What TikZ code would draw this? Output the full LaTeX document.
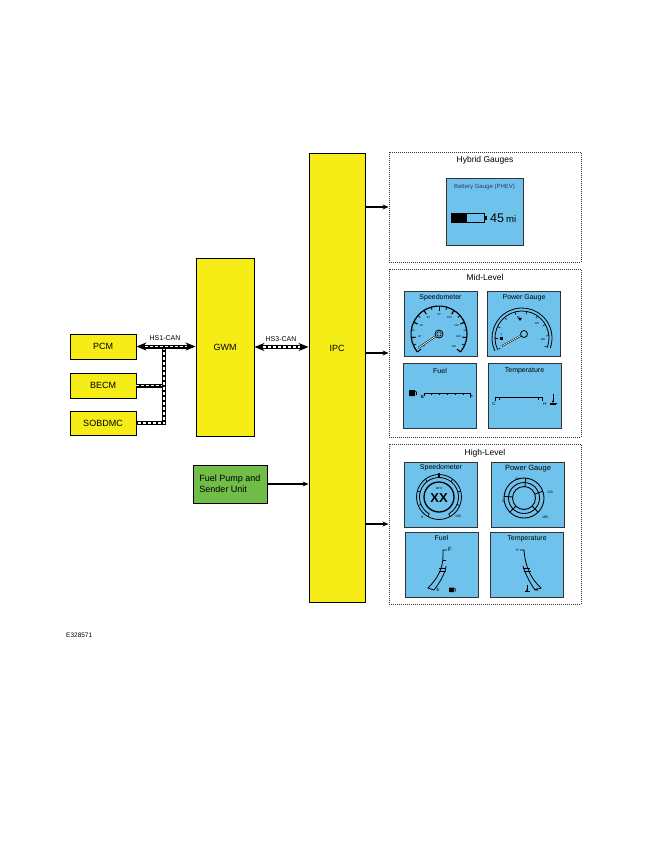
\documentclass[tikz,border=0pt]{standalone}
\usepackage{fontspec}
\setmainfont{Liberation Sans}
\usetikzlibrary{arrows.meta}
\usetikzlibrary{positioning}
\definecolor{ecuyellow}{RGB}{246,236,22}
\definecolor{pumpgreen}{RGB}{112,190,72}
\definecolor{dialblue}{RGB}{110,194,236}
\definecolor{titlegrey}{RGB}{45,62,92}
\tikzset{ecu/.style = {draw, fill=ecuyellow, line width=0.8pt, inner sep=0, font=\fontsize{9}{10.5}\selectfont}}
\tikzset{ecutext/.style = {inner sep=0, font=\fontsize{9}{10.5}\selectfont}}
\tikzset{panel/.style = {draw=black!80, densely dotted, line width=1pt, minimum width=192pt}}
\tikzset{ptitle/.style = {inner sep=0, font=\fontsize{8.5}{9}\selectfont}}
\tikzset{gauge/.style = {draw=black!80, fill=dialblue, line width=1pt, minimum width=73pt, minimum height=65pt}}
\tikzset{gtitle/.style = {inner sep=0, font=\fontsize{7}{8}\selectfont}}
\tikzset{dialnum/.style = {inner sep=0, font=\fontsize{2.8}{3}\selectfont}}
\tikzset{dialchar/.style = {inner sep=0, font=\fontsize{4.5}{5}\selectfont}}
\tikzset{canlabel/.style = {inner sep=0, font=\fontsize{7}{8}\selectfont}}
\tikzset{canbus/.style = {line width=4pt, postaction={draw, white, line width=1.4pt, dash pattern=on 3pt off 2pt}}}
\tikzset{canarrow/.style = {line width=4pt, {Stealth[length=10pt,width=8pt]}-{Stealth[length=10pt,width=8pt]},
                            postaction={draw, white, line width=1.4pt, dash pattern=on 3pt off 2pt, arrows=-, shorten <=9pt, shorten >=9pt}}}
\tikzset{sig/.style = {line width=1.3pt, -{Stealth[length=6pt,width=5pt]}}}

\begin{document}
\begin{tikzpicture}[x=1pt, y=1pt]
  \useasboundingbox (0,0) rectangle (650,-841);
  % modules
  \node [ecu, minimum width=66pt, minimum height=25pt] (pcm) at (103,-346.5) {PCM};
  \node [ecu, minimum width=66pt, minimum height=25pt] (becm) at (103,-385.5) {BECM};
  \node [ecu, minimum width=66pt, minimum height=24pt] (sobdmc) at (103,-423) {SOBDMC};
  \node [ecu, minimum width=58pt, minimum height=178pt] (gwm) at (225,-347) {GWM};
  \node [ecu, minimum width=56pt, minimum height=449pt] (ipc) at (337,-377.5) {};
  \node [ecutext] (ipclabel) at (337,-348.5) {IPC};
  \node [ecu, fill=pumpgreen, minimum width=74pt, minimum height=38pt, align=left] (pump) at (230,-484) {Fuel Pump and\\Sender Unit};
  % can buses
  \coordinate (hs1) at (164,-346.5);
  \draw [canbus] (becm.east) -- (becm.east -| hs1);
  \draw [canbus] (hs1) |- (sobdmc.east);
  \draw [canarrow] (pcm.east) -- (pcm.east -| gwm.west);
  \node [canlabel] (hs1label) at (165,-338) {HS1-CAN};
  \draw [canarrow] (gwm.east) -- (gwm.east -| ipc.west);
  \node [canlabel] (hs3label) at (281,-339) {HS3-CAN};
  \draw [sig] (pump.east) -- (pump.east -| ipc.west);

  % gauge panels
  \node [panel, minimum height=110pt] (hybrid) at (485,-207) {};
  \node [panel, minimum height=168pt] (midlevel) at (485,-353) {};
  \node [panel, minimum height=160pt] (highlevel) at (485,-524) {};
  \node [ptitle, below=5pt of hybrid.north] {Hybrid Gauges};
  \node [ptitle, below=6pt of midlevel.north] {Mid-Level};
  \node [ptitle, below=6pt of highlevel.north] {High-Level};
  \draw [sig] (ipc.east |- hybrid.west) -- (hybrid.west);
  \draw [sig] (ipc.east |- midlevel.west) -- (midlevel.west);
  \draw [sig] (ipc.east |- highlevel.west) -- (highlevel.west);

  % hybrid
  \node [gauge, minimum width=77pt, minimum height=67pt] (battery) at (484.5,-211.5) {};
  \node [gtitle, font=\fontsize{6}{7}\selectfont, text=titlegrey, below=6pt of battery.north] {Battery Gauge (PHEV)};
  \draw [line width=0.8pt] (451,-213) rectangle (484,-222);
  \fill (451,-213) rectangle (467,-222);
  \fill (484,-215.5) rectangle (486.5,-219.5);
  \node [anchor=base west, inner sep=0, font=\fontsize{12.5}{13}\selectfont] at (490,-222.5) {45\,{\fontsize{9.5}{10}\selectfont mi}};

  % mid-level
  \node [gauge] (midspeed) at (440.5,-323.5) {};
  \node [gauge] (midpower) at (524,-323.5) {};
  \node [gauge] (midfuel) at (440,-396) {};
  \node [gauge] (midtemp) at (524.5,-396) {};
  \node [gtitle, below=4pt of midspeed.north] {Speedometer};
  \node [gtitle, below=4pt of midpower.north] {Power Gauge};
  \node [gtitle, below=5pt of midfuel.north] {Fuel};
  \node [gtitle, below=4pt of midtemp.north] {Temperature};
  \begin{scope}[shift={(439,-334)}]
    \draw [line width=1.2pt] (220:28) arc (220:-40:28);
    \foreach \i in {0,...,16} \draw [line width=0.7pt] (220-\i*16.25:28) -- (220-\i*16.25:25);
    \foreach \i in {0,...,8} \draw [line width=1pt] (220-\i*32.5:28) -- (220-\i*32.5:23.5);
    \foreach \v [count=\i from 0] in {0,20,...,160} \node [dialnum] at (220-\i*32.5:19.5) {\v};
    \draw [line width=1.8pt] (214:4) -- (214:25);
    \draw [white, line width=0.7pt] (214:4) -- (214:24.5);
    \draw [line width=0.8pt, fill=dialblue] (0,0) circle (4);
    \draw [line width=0.5pt] (0,0) circle (2.2);
  \end{scope}
  \begin{scope}[shift={(522,-338)}]
    \draw [line width=0.8pt] (205:30) arc (205:-20:30);
    \draw [line width=0.8pt] (205:27) arc (205:-20:27);
    \foreach \a in {205,180,...,-20} \draw [line width=0.5pt] (\a:27) -- (\a:24);
    \node [dialnum] at (170:21) {0};
    \node [dialnum] at (100:21) {60};
    \node [dialnum] at (45:21) {120};
    \node [dialnum] at (-5:21) {180};
    \fill (96:19) ++(-2,1.2) -- ++(4,0) -- ++(-2,-3) -- cycle;
    \fill (-22,-1.5) rectangle (-19.5,1.5);
    \draw [line width=1.6pt] (2,4) -- (-20,-8);
    \draw [white, line width=0.6pt] (0,3) -- (-19.5,-7.7);
    \draw [line width=0.8pt, fill=dialblue] (2,4) circle (3.5);
  \end{scope}
  \draw [line width=0.9pt] (424,-396) -- (424,-393) -- (470,-393) -- (470,-396);
  \foreach \x in {431,439,...,463} \draw [line width=0.5pt] (\x,-393) -- (\x,-395);
  \node [dialchar, font=\bfseries\fontsize{4.5}{5}\selectfont] at (422.5,-397) {E};
  \node [dialchar, font=\bfseries\fontsize{4.5}{5}\selectfont] at (471.5,-397) {F};
  \fill [rounded corners=0.6pt] (409,-396) rectangle (415,-390);
  \draw [line width=0.6pt] (415,-391) -- (416.5,-392) -- (416.5,-395);
  \draw [line width=0.9pt] (495,-401) -- (495,-397) -- (542,-397) -- (542,-401);
  \draw [line width=0.5pt] (499,-397) -- (499,-399.5);
  \draw [line width=0.5pt] (538,-397) -- (538,-399.5);
  \node [dialchar] at (494,-403.5) {C};
  \node [dialchar] at (545,-403.5) {H};
  \draw [line width=0.7pt] (553,-394) -- (553,-401);
  \fill (553,-401.5) circle (1.2);
  \draw [line width=0.6pt] (549.5,-403) -- (556.5,-403);
  \draw [line width=0.6pt] (550,-404.5) -- (556,-404.5);

  % high-level
  \node [gauge] (highspeed) at (441,-494.5) {};
  \node [gauge] (highpower) at (528,-494.5) {};
  \node [gauge] (highfuel) at (441.5,-564.5) {};
  \node [gauge] (hightemp) at (527,-564.5) {};
  \node [gtitle, below=3pt of highspeed.north] {Speedometer};
  \node [gtitle, font=\fontsize{7.5}{8}\selectfont, below=4pt of highpower.north] {Power Gauge};
  \node [gtitle, below=4pt of highfuel.north] {Fuel};
  \node [gtitle, below=4pt of hightemp.north] {Temperature};
  \begin{scope}[shift={(439,-497)}]
    \draw [line width=0.8pt] (0,0) circle (22.5);
    \draw [line width=0.8pt] (240:19.5) arc (240:-60:19.5);
    \draw [line width=1.3pt] (0,0) circle (15);
    \foreach \a in {240,202.5,...,-60} \draw [line width=0.7pt] (\a:19.5) -- (\a:22.5);
    \draw [line width=1.3pt] (90:19) -- (90:24.5);
    \node [inner sep=0, font=\bfseries\fontsize{13}{13}\selectfont] at (0,-1.5) {XX};
    \node [dialnum] at (0,8) {MPH};
    \node [dialnum, font=\fontsize{3.5}{4}\selectfont] at (230:26) {0};
    \node [dialnum, font=\fontsize{3.5}{4}\selectfont] at (-46:27.5) {160};
  \end{scope}
  \begin{scope}[shift={(524,-498)}]
    \foreach \r in {20,15.5,11.5} \draw [line width=0.9pt] (0,0) circle (\r);
    \foreach \a in {85,20,175,-45,-135} \draw [line width=0.9pt] (\a:11.5) -- (\a:20);
    \node [dialnum, font=\fontsize{3.5}{4}\selectfont] at (-7,18.5) {60};
    \node [dialnum, font=\fontsize{3.5}{4}\selectfont] at (26,6) {120};
    \node [dialnum, font=\fontsize{3.5}{4}\selectfont] at (21,-19) {180};
    \node [dialnum, font=\fontsize{3.5}{4}\selectfont] at (-21,-3) {0};
  \end{scope}
  \draw [line width=0.8pt] (447,-550) -- (443,-550) -- (443,-556) .. controls (443,-568) and (438,-578) .. (428,-588) -- (434,-590) .. controls (442,-580) and (446,-570) .. (446,-566);
  \draw [line width=0.7pt] (439,-568) -- (446,-568);
  \draw [line width=0.7pt] (438.5,-571) -- (445.5,-571);
  \draw [line width=0.6pt] (443,-560) -- (446,-560);
  \node [dialchar, font=\fontsize{6}{6}\selectfont] at (450,-549) {F};
  \node [dialchar] at (438,-590) {E};
  \fill [rounded corners=0.5pt] (449,-592) rectangle (454,-587.5);
  \draw [line width=0.5pt] (454,-588) -- (455.5,-589) -- (455.5,-591.5);
  \draw [line width=0.8pt] (520,-550) -- (524,-550) .. controls (525,-565) and (530,-578) .. (541,-588) -- (535,-590) .. controls (528,-580) and (524,-570) .. (523,-566);
  \draw [line width=0.7pt] (523,-568) -- (530,-568);
  \draw [line width=0.7pt] (524,-571) -- (531,-571);
  \node [dialnum, font=\fontsize{3.5}{4}\selectfont] at (517.5,-550) {H};
  \node [dialchar] at (537,-590) {C};
  \draw [line width=0.6pt] (527,-585) -- (527,-590);
  \fill (527,-590) circle (1);
  \draw [line width=0.5pt] (524.5,-591.5) -- (529.5,-591.5);

  \node [anchor=west, inner sep=0, font=\fontsize{6.5}{7}\selectfont] (figid) at (66,-635) {E328571};
\end{tikzpicture}
\end{document}
